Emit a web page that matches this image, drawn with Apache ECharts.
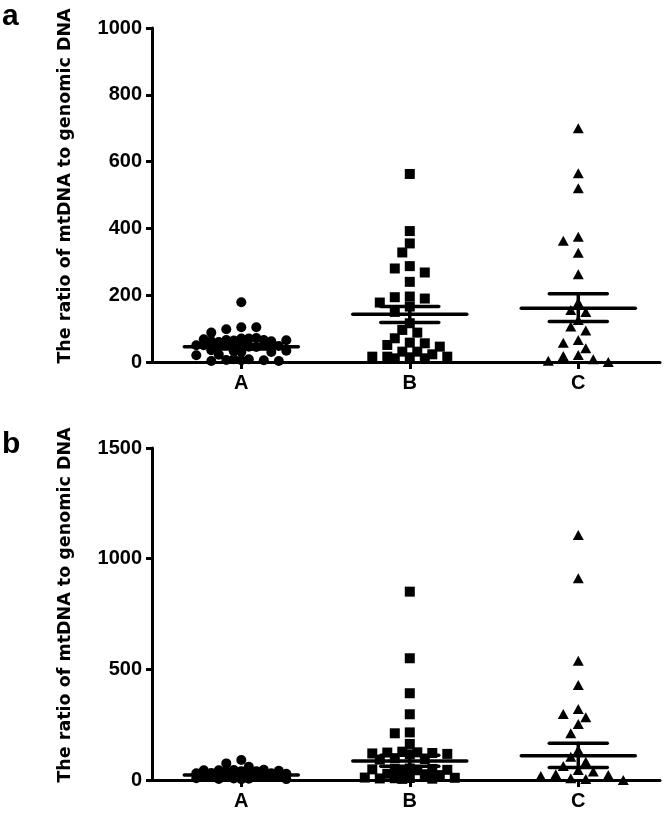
<!DOCTYPE html>
<html>
<head>
<meta charset="utf-8">
<script src="https://cdn.jsdelivr.net/npm/echarts@6/dist/echarts.min.js"></script>
<style>html,body{margin:0;padding:0;background:#fff}#c{width:666px;height:817px}</style>
</head>
<body>
<div id="c"></div>
<script>
// ---------- data ----------
const categories = ['A', 'B', 'C'];
const yTicksA = [0, 200, 400, 600, 800, 1000];
const yTicksB = [0, 500, 1000, 1500];
const yTitle = 'The ratio of mtDNA to genomic DNA';
const panelLetters = ['a', 'b'];

// panel a values
const aGroupA = [179, 104, 98, 104, 88, 70, 66, 72, 62, 68, 65, 64, 70, 60, 66, 62, 50, 48, 45, 52, 46, 50, 32, 35, 30, 34, 30, 20, 22, 8, 5, 3, 6, 3, 5, 8];
const aGroupB = [563, 392, 355, 328, 287, 280, 268, 240, 196, 194, 190, 178, 166, 150, 116, 96, 88, 71, 58, 56, 51, 46, 31, 31, 23, 16, 16, 16, 14, 11, 11];
const aGroupC = [700, 565, 520, 375, 363, 327, 263, 178, 156, 150, 126, 106, 94, 66, 58, 41, 21, 18, 8, 4, 0];
const aMean = [46, 143, 161];
const aSemLow = [39, 118, 121];
const aSemHigh = [53, 166, 204];

// panel b values
const bGroupA = [90, 75, 60, 46, 45, 44, 44, 42, 40, 40, 40, 32, 30, 30, 28, 28, 27, 26, 18, 17, 16, 16, 15, 15, 14, 13, 8, 7, 6, 5, 4, 4];
const bGroupB = [851, 550, 392, 297, 215, 211, 163, 128, 125, 124, 122, 120, 118, 116, 98, 95, 92, 52, 50, 50, 48, 46, 45, 44, 28, 26, 22, 11, 10, 9, 8, 7, 6, 5];
const bGroupC = [1107, 911, 539, 429, 321, 298, 283, 253, 211, 136, 105, 83, 63, 45, 38, 26, 23, 18, 8, 4, 0];
const bMean = [23, 86, 110];
const bSemLow = [19, 62, 56];
const bSemHigh = [27, 112, 166];

// ---------- layout ----------
const GRID_LEFT = 152, GRID_RIGHT = 6;
const X_MIN = 0.47, X_MAX = 3.485;
const plotW = 666 - GRID_LEFT - GRID_RIGHT;
const pxPerX = plotW / (X_MAX - X_MIN);
const grids = [
  { left: GRID_LEFT, right: GRID_RIGHT, top: 28, height: 334 },
  { left: GRID_LEFT, right: GRID_RIGHT, top: 448, height: 332 }
];
const COL_PX = 15, SYM_D = 10, MAX_COL = 3;
const MEAN_HALF = 57 / pxPerX, SEM_HALF = 29 / pxPerX;

// simple beeswarm: offsets in column units
function swarm(values, pxPerY) {
  const cands = [0];
  for (let k = 0.5; k <= MAX_COL; k += 0.5) cands.push(-k, k);
  const placed = [];
  return values.map(v => {
    const y = v * pxPerY;
    let best = 0, bestScore = -1;
    for (const c of cands) {
      const x = c * COL_PX;
      let minD = Infinity;
      for (const p of placed) minD = Math.min(minD, Math.hypot(p.x - x, p.y - y));
      if (minD >= SYM_D) { best = c; bestScore = Infinity; break; }
      if (minD > bestScore + 0.5) { bestScore = minD; best = c; }
    }
    placed.push({ x: best * COL_PX, y });
    return best;
  });
}

function scatterData(values, groupIdx, pxPerY) {
  const offs = swarm(values, pxPerY);
  return values.map((v, i) => [groupIdx + 1 + offs[i] * COL_PX / pxPerX, v]);
}

const symbols = [['circle', 10], ['rect', 10], ['triangle', [11, 10]]];
const panels = [
  { groups: [aGroupA, aGroupB, aGroupC], mean: aMean, lo: aSemLow, hi: aSemHigh, ticks: yTicksA },
  { groups: [bGroupA, bGroupB, bGroupC], mean: bMean, lo: bSemLow, hi: bSemHigh, ticks: yTicksB }
];

const xAxes = [], yAxes = [], series = [];
panels.forEach((p, pi) => {
  const yMax = p.ticks[p.ticks.length - 1];
  const pxPerY = grids[pi].height / (yMax - p.ticks[0]);
  xAxes.push({
    type: 'value', gridIndex: pi, min: X_MIN, max: X_MAX,
    axisLine: { show: true, onZero: false, lineStyle: { color: '#000', width: 3 } },
    axisTick: { show: true, customValues: [1, 2, 3], length: 7, lineStyle: { color: '#000', width: 3 } },
    axisLabel: {
      customValues: [1, 2, 3], formatter: v => categories[Math.round(v) - 1],
      fontSize: 20, fontWeight: 'bold', color: '#000', margin: 11, fontFamily: 'Liberation Sans'
    },
    splitLine: { show: false }
  });
  yAxes.push({
    type: 'value', gridIndex: pi, min: p.ticks[0], max: yMax, interval: p.ticks[1] - p.ticks[0],
    axisLine: { show: true, lineStyle: { color: '#000', width: 3 } },
    axisTick: { show: true, length: 6, lineStyle: { color: '#000', width: 3 } },
    axisLabel: { formatter: v => String(v), fontSize: 20, fontWeight: 'bold', color: '#000', margin: 10, fontFamily: 'Liberation Sans' },
    splitLine: { show: false },
    name: yTitle, nameLocation: 'middle', nameGap: 78,
    nameTextStyle: { fontFamily: 'DejaVu Sans', fontWeight: 'bold', fontSize: 17.5, color: '#000', padding: [0, 0, 0, 18] }
  });
  p.groups.forEach((vals, gi) => {
    series.push({
      type: 'scatter', xAxisIndex: pi, yAxisIndex: pi,
      symbol: symbols[gi][0], symbolSize: symbols[gi][1],
      itemStyle: { color: '#000', opacity: 1 },
      data: scatterData(vals, gi, pxPerY), z: 2, silent: true
    });
  });
  series.push({
    type: 'custom', xAxisIndex: pi, yAxisIndex: pi, z: 3, silent: true,
    encode: { x: 0, y: 1 },
    data: categories.map((c, gi) => [gi + 1, p.mean[gi], p.lo[gi], p.hi[gi]]),
    renderItem: (params, api) => {
      const x = api.value(0), m = api.value(1), lo = api.value(2), hi = api.value(3);
      const st = { stroke: '#000', lineWidth: 3.5, lineCap: 'round' };
      const seg = (x1, y1, x2, y2) => {
        const a = api.coord([x1, y1]), b = api.coord([x2, y2]);
        return { type: 'line', shape: { x1: a[0], y1: a[1], x2: b[0], y2: b[1] }, style: st };
      };
      return {
        type: 'group', children: [
          seg(x - MEAN_HALF, m, x + MEAN_HALF, m),
          seg(x - SEM_HALF, lo, x + SEM_HALF, lo),
          seg(x - SEM_HALF, hi, x + SEM_HALF, hi),
          seg(x, lo, x, hi)
        ]
      };
    }
  });
});

const chart = echarts.init(document.getElementById('c'), null, { renderer: 'canvas' });
chart.setOption({
  backgroundColor: '#fff',
  animation: false,
  grid: grids,
  xAxis: xAxes,
  yAxis: yAxes,
  series: series,
  graphic: [
    { type: 'text', left: 2, top: 2, style: { text: panelLetters[0], font: 'bold 30px "Liberation Sans"', fill: '#000' } },
    { type: 'text', left: 2, top: 430, style: { text: panelLetters[1], font: 'bold 30px "Liberation Sans"', fill: '#000' } }
  ]
});
</script>
</body>
</html>
